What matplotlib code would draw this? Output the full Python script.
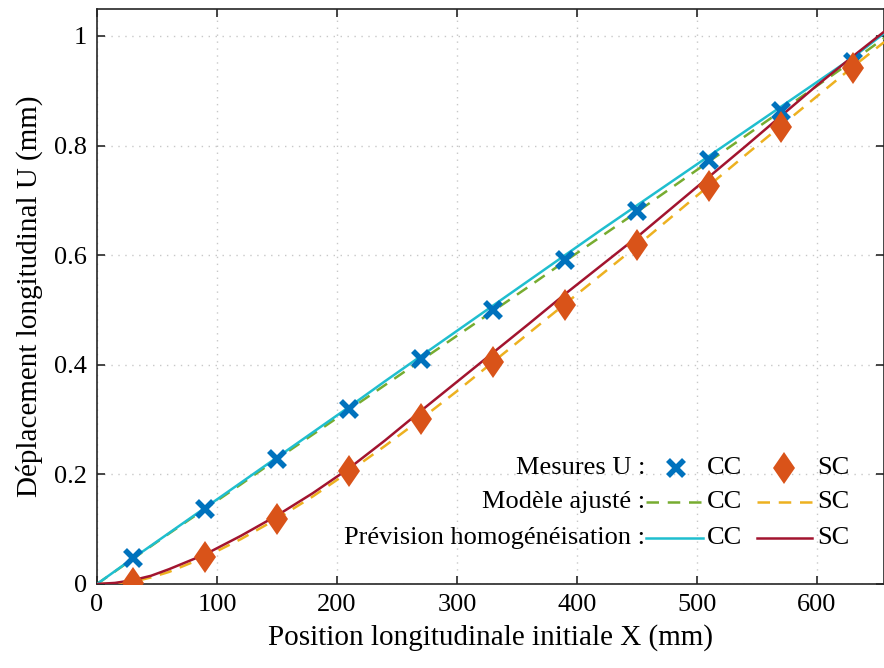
import matplotlib
matplotlib.use('Agg')

import matplotlib.pyplot as plt
from matplotlib.lines import Line2D
from matplotlib.markers import MarkerStyle
from matplotlib.transforms import Affine2D

plt.rcParams['font.family'] = ['Liberation Serif', 'DejaVu Serif']

# Mesures (points)
x_mes = [30, 90, 150, 210, 270, 330, 390, 450, 510, 570, 630]
u_mes_cc = [0.047, 0.137, 0.228, 0.319, 0.411, 0.500, 0.591, 0.681, 0.774, 0.863, 0.953]
u_mes_sc = [0.002, 0.049, 0.119, 0.206, 0.301, 0.405, 0.509, 0.619, 0.726, 0.834, 0.942]

# Courbes
x_courbe = [0, 15, 30, 45, 60, 90, 120, 150, 180, 210, 240, 270, 300, 330, 360,
            390, 420, 450, 480, 510, 540, 570, 600, 630, 656]
u_fit_cc = [0, 0.023, 0.046, 0.069, 0.092, 0.137, 0.182, 0.228, 0.273, 0.318, 0.363, 0.408,
            0.453, 0.498, 0.543, 0.589, 0.634, 0.679, 0.725, 0.771, 0.817, 0.863, 0.909,
            0.955, 0.996]
u_fit_sc = [0, 0.001, 0.004, 0.012, 0.022, 0.049, 0.082, 0.119, 0.160, 0.205, 0.252, 0.301,
            0.352, 0.405, 0.458, 0.511, 0.564, 0.617, 0.672, 0.727, 0.782, 0.836, 0.890,
            0.944, 0.989]
u_prev_cc = [0, 0.0235, 0.047, 0.070, 0.093, 0.139, 0.185, 0.231, 0.277, 0.323, 0.370, 0.416,
             0.462, 0.508, 0.554, 0.600, 0.646, 0.691, 0.736, 0.781, 0.826, 0.871, 0.916,
             0.961, 1.005]
u_prev_sc = [0, 0.002, 0.007, 0.015, 0.027, 0.054, 0.088, 0.125, 0.166, 0.211, 0.262, 0.316,
             0.369, 0.422, 0.475, 0.529, 0.581, 0.633, 0.688, 0.743, 0.798, 0.854, 0.910,
             0.963, 1.008]

c_bleu = '#0072BD'
c_orange = '#D95319'
c_vert = '#77AC30'
c_jaune = '#EDB120'
c_cyan = '#1FBECF'
c_rouge = '#A2142F'

losange = MarkerStyle('D', transform=Affine2D().scale(0.7, 1.0))
ms_los = 16.5

fig = plt.figure(figsize=(8.84, 6.68), dpi=100)
ax = fig.add_axes([97 / 884, 84 / 668, 787 / 884, 575 / 668])

lw = 1.8
ax.plot(x_courbe, u_fit_cc, color=c_vert, lw=lw, dashes=(5, 3.5), zorder=3)
ax.plot(x_courbe, u_fit_sc, color=c_jaune, lw=lw, dashes=(5, 3.5), zorder=3)
ax.plot(x_courbe, u_prev_cc, color=c_cyan, lw=lw, zorder=4)
ax.plot(x_courbe, u_prev_sc, color=c_rouge, lw=lw, zorder=4)
ax.plot(x_mes, u_mes_cc, 'x', color=c_bleu, ms=11, mew=4, zorder=5)
ax.plot(x_mes, u_mes_sc, ls='none', marker=losange, color=c_orange, ms=ms_los, mew=0, zorder=5)

ax.set_xlim(0, 787 / 1.2)
ax.set_ylim(0, 575 / 548)
ax.set_xticks([0, 100, 200, 300, 400, 500, 600])
ax.set_yticks([0, 0.2, 0.4, 0.6, 0.8, 1])
ax.set_yticklabels(['0', '0.2', '0.4', '0.6', '0.8', '1'])
ax.tick_params(direction='in', length=6, width=1.2, top=True, right=True,
               labelsize=19, pad=7, colors='#262626', labelcolor='black')
ax.grid(True, linestyle=(0, (1, 4)), color='#c8c8c8', linewidth=1.0)
for s in ax.spines.values():
    s.set_linewidth(1.2)
    s.set_color('#262626')

ax.set_xlabel('Position longitudinale initiale X (mm)', fontsize=21, labelpad=6)
ax.set_ylabel('Déplacement longitudinal U (mm)', fontsize=21, labelpad=8)

# Légende dessinée à la main (en coordonnées de la figure)
T = fig.transFigure
def fx(px):
    return px / 884
def fy(py):
    return 1 - py / 668

rows = [468, 502, 538]
noms = ['Mesures U :', 'Modèle ajusté :', 'Prévision homogénéisation :']
for r, n in zip(rows, noms):
    fig.text(fx(645), fy(r), n, ha='right', va='center', fontsize=19)
    fig.text(fx(707), fy(r), 'CC', ha='left', va='center', fontsize=19)
    fig.text(fx(817), fy(r), 'SC', ha='left', va='center', fontsize=19)

fig.add_artist(Line2D([fx(676)], [fy(rows[0])], transform=T, marker='x', ls='none',
                      color=c_bleu, ms=11, mew=4))
fig.add_artist(Line2D([fx(784)], [fy(rows[0])], transform=T, marker=losange, ls='none',
                      color=c_orange, ms=ms_los, mew=0))
fig.add_artist(Line2D([fx(646), fx(703)], [fy(rows[1])] * 2, transform=T,
                      color=c_vert, lw=lw, dashes=(5, 3.5)))
fig.add_artist(Line2D([fx(757), fx(812)], [fy(rows[1])] * 2, transform=T,
                      color=c_jaune, lw=lw, dashes=(5, 3.5)))
fig.add_artist(Line2D([fx(646), fx(703)], [fy(rows[2])] * 2, transform=T,
                      color=c_cyan, lw=lw))
fig.add_artist(Line2D([fx(757), fx(812)], [fy(rows[2])] * 2, transform=T,
                      color=c_rouge, lw=lw))

fig.savefig('out.png', dpi=100)
